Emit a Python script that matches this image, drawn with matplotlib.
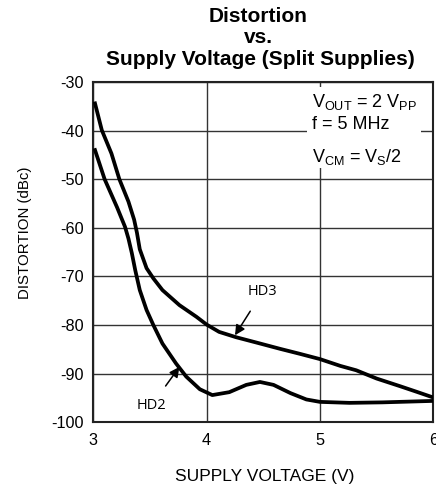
import matplotlib
matplotlib.use("Agg")
import matplotlib.pyplot as plt
from matplotlib.patches import Rectangle

# Data
hd3_v = [3.015, 3.075, 3.16, 3.23, 3.31, 3.36, 3.385, 3.41, 3.47, 3.53, 3.61, 3.76, 3.91, 4.0,
         4.11, 4.26, 4.44, 4.65, 4.82, 5.0, 5.18, 5.32, 5.50, 5.71, 5.85, 6.0]
hd3_d = [-34.4, -39.9, -44.7, -50.0, -54.6, -58.3, -61.0, -64.4, -68.3, -70.4, -72.8, -75.9,
         -78.3, -79.9, -81.4, -82.5, -83.6, -84.9, -85.9, -87.0, -88.4, -89.3, -91.0, -92.6,
         -93.7, -94.9]

hd2_v = [3.015, 3.10, 3.21, 3.28, 3.31, 3.34, 3.37, 3.41, 3.47, 3.53, 3.61, 3.73, 3.82, 3.94,
         4.05, 4.20, 4.35, 4.47, 4.59, 4.74, 4.88, 5.0, 5.26, 5.55, 6.0]
hd2_d = [-44.0, -50.0, -55.8, -59.8, -62.2, -65.2, -68.7, -72.8, -76.9, -80.0, -83.8, -87.9,
         -90.6, -93.2, -94.4, -93.8, -92.3, -91.7, -92.3, -94.0, -95.3, -95.8, -96.0, -95.9,
         -95.6]

x_ticks = [3, 4, 5, 6]
y_ticks = [-30, -40, -50, -60, -70, -80, -90, -100]

plt.rcParams['font.family'] = ['Liberation Sans', 'DejaVu Sans']
plt.rcParams['axes.unicode_minus'] = False

W, H = 436, 493
fig = plt.figure(figsize=(W / 100, H / 100), dpi=100)
ax = fig.add_axes([93.3 / W, 1 - 422.3 / H, 340 / W, 340.3 / H])

ax.set_xlim(3, 6)
ax.set_ylim(-100, -30)
ax.set_xticks(x_ticks)
ax.set_yticks(y_ticks)
ax.tick_params(length=0, labelsize=11.7, colors='black')
ax.tick_params(axis='y', pad=7)
ax.tick_params(axis='x', pad=8)
ax.grid(True, color='#333333', linewidth=1.0)
ax.set_axisbelow(True)
for s in ax.spines.values():
    s.set_linewidth(1.5)
    s.set_color('#222222')

ax.plot(hd3_v, hd3_d, color='black', lw=2.7, solid_joinstyle='round', zorder=3)
ax.plot(hd2_v, hd2_d, color='black', lw=2.7, solid_joinstyle='round', zorder=3)

# white box behind condition text (pixels -> data)
px = 1 / 113.3
py = 10 / 48.6
ax.add_patch(Rectangle((5 - 12.5 * px, -30 - 86 * py), 114 * px, 81 * py,
                       facecolor='white', edgecolor='none', zorder=1.5))
tx = 5 - 7.5 * px
ax.text(tx, -34.1, r'V$_{\mathregular{OUT}}$ = 2 V$_{\mathregular{PP}}$', fontsize=13,
        va='center', ha='left', zorder=4)
ax.text(tx, -38.8, 'f = 5 MHz', fontsize=13, va='center', ha='left', zorder=4)
ax.text(tx, -45.4, r'V$_{\mathregular{CM}}$ = V$_{\mathregular{S}}$/2', fontsize=13,
        va='center', ha='left', zorder=4)

ax.annotate('HD3', xy=(4.25, -82.1), xytext=(4.495, -73.1), fontsize=10.5,
            family=['Open Sans', 'DejaVu Sans'], ha='center', va='center',
            arrowprops=dict(arrowstyle='-|>', color='black', lw=1.1, mutation_scale=15,
                            shrinkA=8, shrinkB=0))
ax.annotate('HD2', xy=(3.76, -88.6), xytext=(3.515, -96.5), fontsize=10.5,
            family=['Open Sans', 'DejaVu Sans'], ha='center', va='center',
            arrowprops=dict(arrowstyle='-|>', color='black', lw=1.1, mutation_scale=15,
                            shrinkA=8, shrinkB=0))

fig.text(258 / W, 1 - 21.7 / H, 'Distortion', ha='center', va='baseline', fontsize=15,
         fontweight='bold')
fig.text(258 / W, 1 - 42.7 / H, 'vs.', ha='center', va='baseline', fontsize=15,
         fontweight='bold')
fig.text(260 / W, 1 - 65 / H, 'Supply Voltage (Split Supplies)', ha='center', va='baseline',
         fontsize=15, fontweight='bold')

fig.text(25 / W, 1 - 233 / H, 'DISTORTION (dBc)', rotation=90, ha='center', va='center',
         fontsize=10.8)
fig.text(265 / W, 1 - 476 / H, 'SUPPLY VOLTAGE (V)', ha='center', va='center', fontsize=12.5)

fig.savefig('out.png', dpi=100)
